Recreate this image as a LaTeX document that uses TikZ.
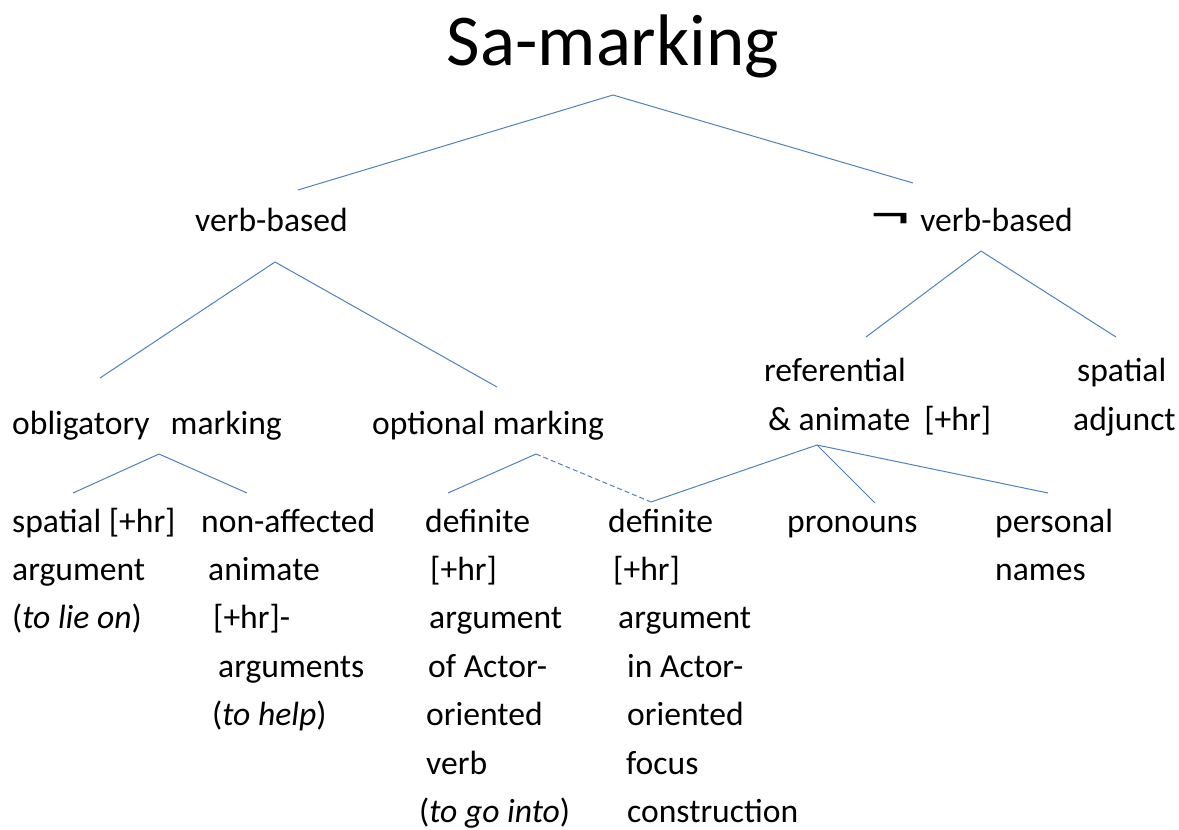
\documentclass[tikz,border=0pt]{standalone}
\usepackage{fontspec}
\setmainfont{Carlito}
\definecolor{branchblue}{RGB}{79,129,189}
\tikzset{
  heading/.style={anchor=base, inner sep=0pt, font=\fontsize{73}{80}\selectfont},
  words/.style={anchor=base west, inner sep=0pt, align=left, font=\fontsize{33.6}{48.4}\selectfont},
  branch/.style={draw=branchblue, line width=1pt},
  maybebranch/.style={branch, dash pattern=on 5pt off 3pt}
}
\newcommand{\notsign}{{\fontsize{52}{52}\selectfont\scalebox{1.55}[1]{¬}}}
\begin{document}
\begin{tikzpicture}[x=1pt, y=-1pt]
  \useasboundingbox (0,0) rectangle (1179,830);

  % tree labels (multi-line nodes sit on their last baseline)
  \node[heading] (samarking) at (613,65) {Sa-marking};
  \node[words] (verbbased) at (195,231) {verb-based};
  \node[words] (nonverb) at (870,231) {\notsign\hspace{10pt}verb-based};
  \node[words] (obligatory) at (12,434) {obligatory\hspace{21pt}marking};
  \node[words] (optional) at (372,434) {optional marking};
  \node[words] (referential) at (764,430) {referential\\\hspace*{4pt}\& animate\hspace{14pt}[+hr]};
  \node[words] (spatialadj) at (1073,430) {\hspace*{4pt}spatial\\adjunct};

  \node[words] (spatialarg) at (12,628.8) {spatial [+hr]\\argument\\(\textit{to lie on})};
  \node[words] (nonaffected) at (201,725.6) {non-affected\\\hspace*{7pt}animate\\\hspace*{12pt}[+hr]-\\\hspace*{17pt}arguments\\\hspace*{11pt}(\textit{to help})};
  \node[words] (defverb) at (419,822.4) {\hspace*{6pt}definite\\\hspace*{11pt}[+hr]\\\hspace*{10pt}argument\\\hspace*{9pt}of Actor-\\\hspace*{7pt}oriented\\\hspace*{7pt}verb\\(\textit{to go into})};
  \node[words] (deffocus) at (608,822.4) {definite\\\hspace*{5pt}[+hr]\\\hspace*{10pt}argument\\\hspace*{19pt}in Actor-\\\hspace*{19pt}oriented\\\hspace*{18pt}focus\\\hspace*{19pt}construction};
  \node[words] (pronouns) at (787,532) {pronouns};
  \node[words] (personal) at (995,580.4) {personal\\names};

  % branch ends
  \coordinate (sa) at (613,95);
  \coordinate (vb-in) at (298,190);
  \coordinate (nvb-in) at (913,183);
  \coordinate (vb-out) at (275,262);
  \coordinate (obl-in) at (100,378);
  \coordinate (opt-in) at (497,387);
  \coordinate (nvb-out) at (981,251);
  \coordinate (ref-in) at (866,337);
  \coordinate (adj-in) at (1116,337);
  \coordinate (obl-out) at (159,454);
  \coordinate (spa-in) at (73,493);
  \coordinate (non-in) at (247,493);
  \coordinate (opt-out) at (536,454);
  \coordinate (dv-in) at (448,493);
  \coordinate (df-in) at (651,502);
  \coordinate (ref-out) at (817,445);
  \coordinate (pro-in) at (875,503);
  \coordinate (per-in) at (1048,493);

  \foreach \from/\to in {sa/vb-in, sa/nvb-in, vb-out/obl-in, vb-out/opt-in,
      nvb-out/ref-in, nvb-out/adj-in, obl-out/spa-in, obl-out/non-in,
      opt-out/dv-in, ref-out/df-in, ref-out/pro-in, ref-out/per-in}
    \draw[branch] (\from) -- (\to);
  \draw[maybebranch] (opt-out) -- (df-in);
\end{tikzpicture}
\end{document}
